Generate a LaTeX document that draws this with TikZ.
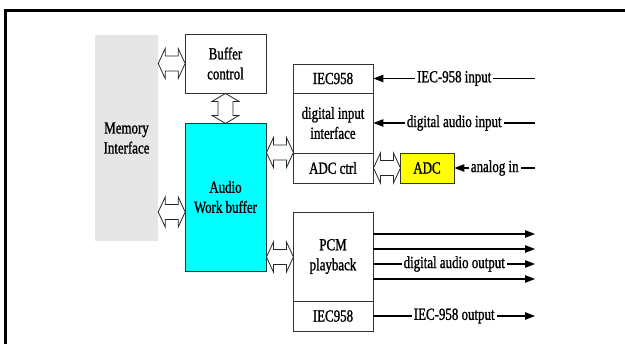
\documentclass[tikz,border=0pt]{standalone}
\usepackage{fontspec}
\setmainfont{Liberation Serif}[FakeStretch=0.76,FakeBold=1.2]
\usetikzlibrary{arrows.meta,calc}
\definecolor{aquafill}{RGB}{0,255,255}
\definecolor{yellowfill}{RGB}{255,255,0}
\definecolor{memgray}{RGB}{230,230,230}
\newcommand\lblfont{\fontsize{17}{20}\selectfont}
\begin{document}
\begin{tikzpicture}[x=1pt,y=-1pt,
  box/.style={draw=black!80, line width=0.9pt, inner sep=0pt, align=center, font=\lblfont},
  lbl/.style={fill=white, inner xsep=2pt, inner ysep=0pt, font=\lblfont},
  sig/.style={line width=1.1pt, -{Triangle[length=10pt,width=7.5pt]}},
  dbl/.style={draw=black!85, line width=0.8pt, fill=white, line join=miter},
  hdbl/.pic={\draw[dbl] (0,0) -- (7,-15) -- (7,-7.5) -- (20,-7.5) -- (20,-15) -- (27,0) -- (20,15) -- (20,7.5) -- (7,7.5) -- (7,15) -- cycle;},
  vdbl/.pic={\draw[dbl] (0,0) -- (-13.5,8) -- (-7.5,8) -- (-7.5,22) -- (-13.5,22) -- (0,30) -- (13.5,22) -- (7.5,22) -- (7.5,8) -- (13.5,8) -- cycle;}
]
\useasboundingbox (0,0) rectangle (625,344);
\draw[line width=3pt] (5.5,344) -- (5.5,10.5) -- (625,10.5);

% blocks
\node[fill=memgray, minimum width=63pt, minimum height=206pt, inner sep=0pt, align=center, font=\lblfont] (mem) at (126.5,138) {Memory\\Interface};
\node[box, minimum width=81pt, minimum height=59pt] (bc) at (225.5,63.5) {Buffer\\control};
\node[box, fill=aquafill, minimum width=81pt, minimum height=148pt] (awb) at (225.5,197) {Audio\\Work buffer};
\node[box, minimum width=80pt, minimum height=29pt] (iec1) at (333,78.5) {IEC958};
\node[box, minimum width=80pt, minimum height=60pt] (dii) at (333,123) {digital input\\interface};
\node[box, minimum width=80pt, minimum height=30pt] (adcc) at (333,168) {ADC ctrl};
\node[box, fill=yellowfill, minimum width=54pt, minimum height=30pt] (adc) at (427,168) {ADC};
\node[box, minimum width=80pt, minimum height=89pt] (pcm) at (333,256.5) {PCM\\playback};
\node[box, minimum width=80pt, minimum height=30pt] (iec2) at (333,316) {IEC958};

% double arrows
\pic at (mem.east |- bc.center) {hdbl};
\pic at (mem.east |- 0,212) {hdbl};
\pic at (bc.south) {vdbl};
\pic at (awb.east |- adcc.north) {hdbl};
\pic at (awb.east |- 0,257) {hdbl};
\pic at (adcc.east) {hdbl};

% free ends
\coordinate (in1) at (535,78.5);
\coordinate (in2) at (535,123);
\coordinate (in3) at (535,168);
\coordinate (o1) at (535,234);
\coordinate (o2) at (535,249);
\coordinate (o3) at (535,264);
\coordinate (o4) at (535,279);
\coordinate (o5) at (535,316);

% inputs
\draw[sig] (in1) -- node[lbl] {IEC-958 input} (iec1.east);
\draw[sig] (in2) -- node[lbl] {digital audio input} (dii.east);
\draw[sig] (in3) -- node[lbl] {analog in} (adc.east);

% outputs
\draw[sig] (pcm.east |- o1) -- (o1);
\draw[sig] (pcm.east |- o2) -- (o2);
\draw[sig] (pcm.east |- o3) -- node[lbl] {digital audio output} (o3);
\draw[sig] (pcm.east |- o4) -- (o4);
\draw[sig] (iec2.east) -- node[lbl] {IEC-958 output} (o5);
\end{tikzpicture}
\end{document}
